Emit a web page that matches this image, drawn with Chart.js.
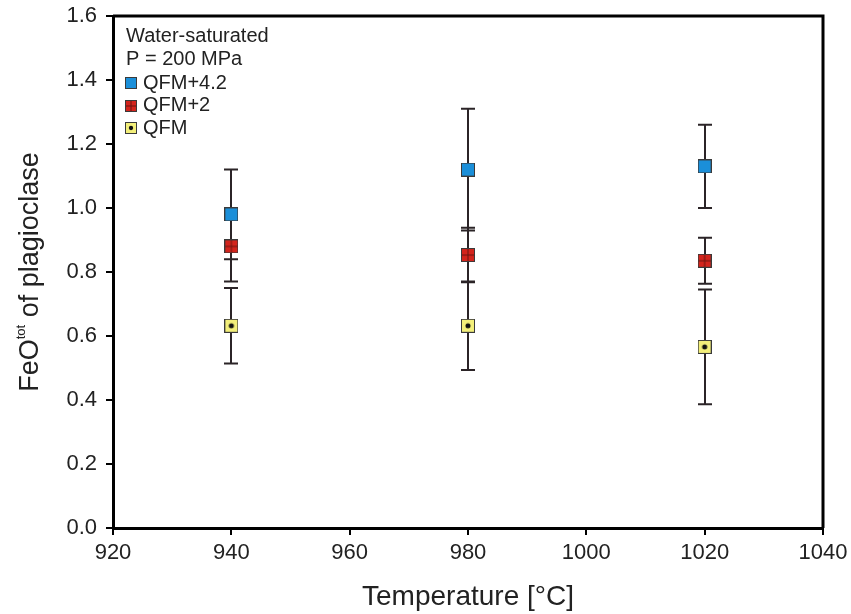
<!DOCTYPE html>
<html>
<head>
<meta charset="utf-8">
<script src="https://cdn.jsdelivr.net/npm/chart.js@4.4.0/dist/chart.umd.min.js"></script>
<style>
  html, body { margin: 0; padding: 0; background: #fff; }
  #wrap { width: 851px; height: 614px; }
</style>
</head>
<body>
<div id="wrap"><canvas id="plag"></canvas></div>
<script>
// temperatures and FeOtot in plagioclase, +/- 1 sigma
const temps = [940, 980, 1020];
const qfm42 = [0.98, 1.12, 1.13];
const qfm42Err = [0.14, 0.19, 0.13];
const qfm2 = [0.88, 0.853, 0.835];
const qfm2Err = [0.11, 0.085, 0.072];
const qfm = [0.632, 0.632, 0.566];
const qfmErr = [0.118, 0.138, 0.179];

const xTicks = [920, 940, 960, 980, 1000, 1020, 1040];
const yTicks = [0.0, 0.2, 0.4, 0.6, 0.8, 1.0, 1.2, 1.4, 1.6];

const FONT = '"Liberation Sans", Arial, sans-serif';

// little square markers like in the original figure
function makeMarker(kind, size) {
    const c = document.createElement('canvas');
    c.width = size; c.height = size;
    const g = c.getContext('2d');
    const fills = { blue: '#1b8fd9', red: '#d3241c', yellow: '#f3ef7a' };
    g.fillStyle = fills[kind];
    g.fillRect(0.5, 0.5, size - 1, size - 1);
    if (kind === 'red') {
        g.strokeStyle = '#6b1510';
        g.lineWidth = 1;
        g.beginPath();
        g.moveTo(size / 2, 1); g.lineTo(size / 2, size - 1);
        g.moveTo(1, size / 2); g.lineTo(size - 1, size / 2);
        g.stroke();
    }
    if (kind === 'yellow') {
        g.fillStyle = '#111';
        g.beginPath();
        g.arc(size / 2, size / 2, size * 0.18, 0, Math.PI * 2);
        g.fill();
    }
    g.strokeStyle = '#3a3a3a';
    g.lineWidth = 1;
    g.strokeRect(0.5, 0.5, size - 1, size - 1);
    return c;
}

const series = [
    { label: 'QFM+4.2', vals: qfm42, errs: qfm42Err, kind: 'blue' },
    { label: 'QFM+2', vals: qfm2, errs: qfm2Err, kind: 'red' },
    { label: 'QFM', vals: qfm, errs: qfmErr, kind: 'yellow' }
];

const errorBars = {
    id: 'errorBars',
    beforeDatasetsDraw(chart) {
        const ctx = chart.ctx;
        const xs = chart.scales.x, ys = chart.scales.y;
        ctx.save();
        ctx.strokeStyle = '#2b2427';
        ctx.lineWidth = 2;
        series.forEach(s => {
            s.vals.forEach((v, i) => {
                const x = Math.round(xs.getPixelForValue(temps[i]));
                const y1 = ys.getPixelForValue(v + s.errs[i]);
                const y2 = ys.getPixelForValue(v - s.errs[i]);
                ctx.beginPath();
                ctx.moveTo(x, y1); ctx.lineTo(x, y2);
                ctx.moveTo(x - 7, y1); ctx.lineTo(x + 7, y1);
                ctx.moveTo(x - 7, y2); ctx.lineTo(x + 7, y2);
                ctx.stroke();
            });
        });
        ctx.restore();
    }
};

const frameAndLegend = {
    id: 'frameAndLegend',
    afterDraw(chart) {
        const ctx = chart.ctx;
        const a = chart.chartArea;
        ctx.save();
        // top and right frame
        ctx.strokeStyle = '#000';
        ctx.lineWidth = 3;
        ctx.beginPath();
        ctx.moveTo(a.left, a.top); ctx.lineTo(a.right, a.top); ctx.lineTo(a.right, a.bottom);
        ctx.stroke();

        // legend box in top-left corner
        ctx.fillStyle = '#222';
        ctx.font = '20px ' + FONT;
        ctx.textBaseline = 'middle';
        ctx.textAlign = 'left';
        ctx.fillText('Water-saturated', 126, 36);
        ctx.fillText('P = 200 MPa', 126, 59);
        series.forEach((s, i) => {
            const yy = 83 + i * 22.5;
            ctx.drawImage(makeMarker(s.kind, 12), 125, Math.round(yy - 6));
            ctx.fillText(s.label, 143, yy);
        });

        // y axis title with superscript
        ctx.translate(31, (a.top + a.bottom) / 2);
        ctx.rotate(-Math.PI / 2);
        const big = '27px ' + FONT, small = '13px ' + FONT;
        ctx.font = big;
        const w1 = ctx.measureText('FeO').width;
        const w3 = ctx.measureText(' of plagioclase').width;
        ctx.font = small;
        const w2 = ctx.measureText('tot').width;
        let x0 = -(w1 + w2 + w3) / 2;
        ctx.font = big;
        ctx.fillText('FeO', x0, 0);
        ctx.font = small;
        ctx.fillText('tot', x0 + w1, -10);
        ctx.font = big;
        ctx.fillText(' of plagioclase', x0 + w1 + w2, 0);
        ctx.restore();
    }
};

const chart = new Chart(document.getElementById('plag'), {
    type: 'scatter',
    data: {
        datasets: series.map(s => ({
            label: s.label,
            data: s.vals.map((v, i) => ({ x: temps[i], y: v })),
            pointStyle: makeMarker(s.kind, 14),
            pointRadius: 7,
            pointHoverRadius: 7
        }))
    },
    options: {
        responsive: true,
        maintainAspectRatio: false,
        animation: false,
        layout: { padding: { top: 16, right: 28, left: 0, bottom: 0 } },
        plugins: {
            legend: { display: false },
            tooltip: { enabled: false }
        },
        scales: {
            x: {
                type: 'linear',
                min: 920,
                max: 1040,
                afterBuildTicks: axis => { axis.ticks = xTicks.map(v => ({ value: v })); },
                afterFit: axis => { axis.height = 86; axis.paddingLeft = 0; axis.paddingRight = 0; },
                grid: { drawOnChartArea: false, drawTicks: true, tickLength: 7, color: '#000', lineWidth: 2 },
                border: { color: '#000', width: 3 },
                ticks: { color: '#222', font: { family: FONT, size: 22 }, padding: 5, maxRotation: 0, callback: v => String(v) },
                title: { display: true, text: 'Temperature [°C]', color: '#222', font: { family: FONT, size: 28 }, padding: { top: 0, bottom: 0 } }
            },
            y: {
                min: 0,
                max: 1.6,
                afterBuildTicks: axis => { axis.ticks = yTicks.map(v => ({ value: v })); },
                afterFit: axis => { axis.width = 113; axis.paddingTop = 0; axis.paddingBottom = 0; },
                grid: { drawOnChartArea: false, drawTicks: true, tickLength: 7, color: '#000', lineWidth: 2 },
                border: { color: '#000', width: 3 },
                ticks: { color: '#222', font: { family: FONT, size: 22 }, padding: 9, callback: v => v.toFixed(1) }
            }
        }
    },
    plugins: [errorBars, frameAndLegend]
});
</script>
</body>
</html>
